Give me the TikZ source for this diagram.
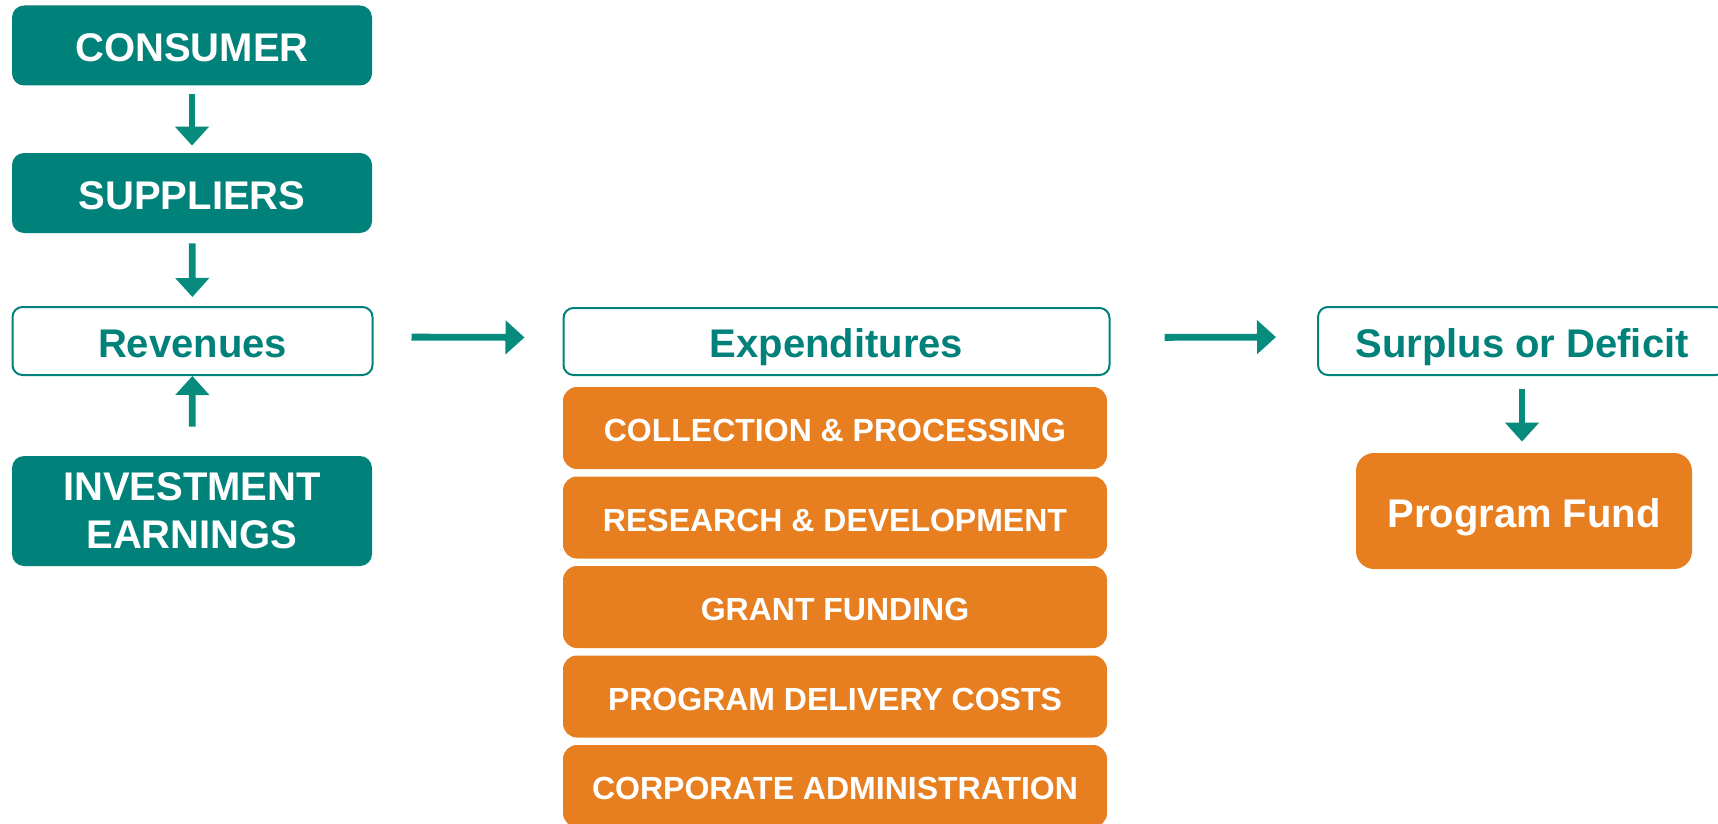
\documentclass[tikz,border=0pt]{standalone}
\usepackage{fontspec}
\setmainfont{Liberation Sans}
\usetikzlibrary{arrows.meta}
\definecolor{tealbox}{RGB}{0,130,122}
\definecolor{tealarr}{RGB}{6,139,124}
\definecolor{orangebox}{RGB}{231,127,33}
\tikzset{
  big/.style={font=\fontsize{20}{24}\selectfont\bfseries, text height=16.3pt, text depth=0pt, inner sep=0pt},
  small/.style={font=\fontsize{16}{19}\selectfont\bfseries, text height=13.5pt, text depth=0pt, inner sep=0pt},
  tealfill/.style={big, fill=tealbox, text=white, rounded corners=6pt, minimum width=180pt},
  whitebox/.style={big, draw=tealbox, line width=1pt, fill=white, text=tealbox, rounded corners=5pt},
  orangeitem/.style={small, fill=orangebox, text=white, rounded corners=7pt, minimum width=272pt, minimum height=41pt},
  arr/.style={draw=tealarr, line width=3.4pt, -{Triangle[length=9.5pt,width=16.5pt]}}
}
\begin{document}
\begin{tikzpicture}[x=0.5pt,y=-0.5pt]
\useasboundingbox (0,0) rectangle (1718,824);
% left column
\node[tealfill, minimum height=40pt] (cons) at (192,45.5) {CONSUMER};
\node[tealfill, minimum height=40pt] (supp) at (192,193) {SUPPLIERS};
\node[whitebox, minimum width=180pt, minimum height=34pt] (rev) at (192.5,341) {Revenues};
\node[tealfill, font=\fontsize{20}{24}\selectfont\bfseries, text height=, text depth=, align=center, minimum height=55pt] (inv) at (192,511) {INVESTMENT\\EARNINGS};
% middle column
\node[whitebox, minimum width=273pt, minimum height=33.5pt] (exp) at (836.5,341.5) {Expenditures};
\node[orangeitem] (o1) at (835,428) {COLLECTION \& PROCESSING};
\node[orangeitem] (o2) at (835,517.5) {RESEARCH \& DEVELOPMENT};
\node[orangeitem] (o3) at (835,607) {GRANT FUNDING};
\node[orangeitem] (o4) at (835,696.5) {PROGRAM DELIVERY COSTS};
\node[orangeitem] (o5) at (835,786) {CORPORATE ADMINISTRATION};
% right column
\node[whitebox, minimum width=204pt, minimum height=34pt] (surp) at (1522,341) {Surplus or Deficit};
\node[big, fill=orangebox, text=white, rounded corners=9pt, minimum width=168pt, minimum height=58pt] (pf) at (1524,511) {Program Fund};
% connectors
\draw[arr, shorten <=4pt, shorten >=3.5pt] (cons) -- (supp);
\draw[arr, shorten <=5pt, shorten >=4.5pt] (supp) -- (rev);
\draw[arr, shorten <=14.5pt, shorten >=0pt] (inv) -- (rev);
\draw[arr, shorten <=19pt, shorten >=19pt] ([yshift=2pt]rev.east) -- ([yshift=2pt]exp.west);
\draw[arr, shorten <=27pt, shorten >=20.5pt] ([yshift=2pt]exp.east) -- ([yshift=2pt]surp.west);
\draw[arr, shorten <=6.5pt, shorten >=5.5pt] (surp.south) -- (surp.south |- pf.north);
\end{tikzpicture}
\end{document}
